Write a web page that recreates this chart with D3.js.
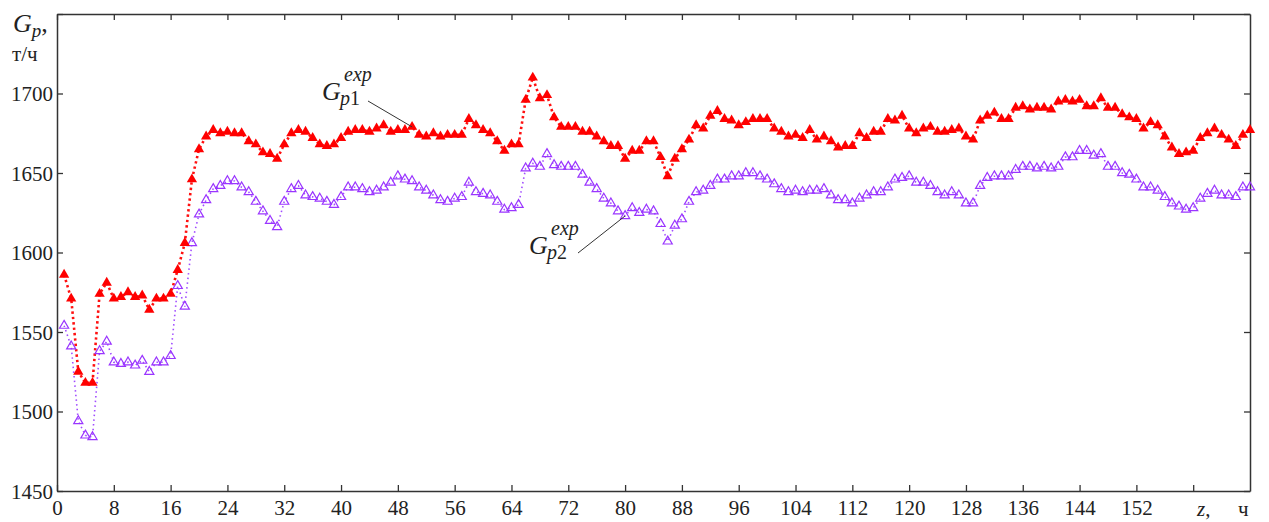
<!DOCTYPE html>
<html>
<head>
<meta charset="utf-8">
<script src="https://cdn.jsdelivr.net/npm/d3@7"></script>
<style>
  body { margin: 0; background: #fff; }
  svg text { font-family: "Times New Roman", Times, "Liberation Serif", "DejaVu Serif", "Noto Serif", serif; fill: #222; }
</style>
</head>
<body>
<svg id="chart" width="1269" height="522"></svg>
<script>
// hours of operation
const hours = d3.range(1, 169)

// Gp1 exp, t/h
const gp1 = [
  1586, 1571, 1525, 1518, 1518, 1574, 1581, 1571, 1572, 1575,
  1572, 1573, 1564, 1571, 1571, 1574, 1589, 1606, 1646, 1665,
  1673, 1677, 1675, 1676, 1675, 1675, 1670, 1668, 1663, 1662,
  1659, 1668, 1675, 1677, 1676, 1672, 1668, 1667, 1668, 1672,
  1676, 1677, 1677, 1676, 1678, 1680, 1676, 1677, 1677, 1679,
  1674, 1673, 1675, 1673, 1674, 1674, 1674, 1684, 1680, 1677,
  1675, 1670, 1664, 1668, 1668, 1696, 1710, 1697, 1699, 1685,
  1679, 1679, 1679, 1676, 1676, 1673, 1670, 1667, 1667, 1659,
  1664, 1664, 1670, 1670, 1660, 1648, 1659, 1665, 1671, 1680,
  1678, 1686, 1689, 1684, 1683, 1680, 1682, 1684, 1684, 1684,
  1678, 1676, 1673, 1674, 1672, 1677, 1671, 1673, 1670, 1666,
  1667, 1667, 1675, 1672, 1676, 1676, 1684, 1683, 1686, 1678,
  1675, 1678, 1679, 1676, 1676, 1677, 1678, 1673, 1671, 1683,
  1686, 1688, 1684, 1684, 1691, 1692, 1690, 1691, 1691, 1690,
  1695, 1696, 1695, 1696, 1692, 1692, 1697, 1691, 1691, 1687,
  1685, 1684, 1678, 1682, 1680, 1673, 1666, 1662, 1663, 1664,
  1672, 1675, 1678, 1674, 1671, 1667, 1674, 1677
]

// Gp2 exp, t/h
const gp2 = [
  1554, 1541, 1494, 1485, 1484, 1538, 1544, 1531, 1530, 1531,
  1529, 1532, 1525, 1531, 1531, 1535, 1579, 1566, 1606, 1624,
  1633, 1640, 1642, 1645, 1645, 1641, 1638, 1632, 1626, 1620,
  1616, 1632, 1640, 1642, 1636, 1635, 1634, 1632, 1630, 1635,
  1641, 1641, 1640, 1638, 1639, 1641, 1644, 1648, 1646, 1645,
  1641, 1639, 1636, 1633, 1632, 1634, 1635, 1644, 1638, 1637,
  1636, 1632, 1627, 1628, 1630, 1653, 1656, 1654, 1662, 1655,
  1654, 1654, 1654, 1649, 1644, 1640, 1634, 1631, 1626, 1623,
  1628, 1625, 1627, 1626, 1618, 1607, 1617, 1621, 1632, 1638,
  1639, 1642, 1646, 1646, 1648, 1648, 1650, 1650, 1648, 1646,
  1643, 1640, 1638, 1639, 1638, 1639, 1639, 1640, 1636, 1633,
  1633, 1631, 1634, 1636, 1638, 1638, 1641, 1646, 1647, 1648,
  1644, 1644, 1642, 1638, 1636, 1638, 1636, 1631, 1631, 1642,
  1647, 1648, 1648, 1648, 1652, 1654, 1654, 1653, 1654, 1653,
  1654, 1660, 1660, 1664, 1664, 1661, 1662, 1654, 1654, 1650,
  1649, 1646, 1641, 1641, 1639, 1635, 1631, 1629, 1627, 1628,
  1634, 1637, 1639, 1636, 1636, 1635, 1641, 1641
]

const xTicks = [0, 8, 16, 24, 32, 40, 48, 56, 64, 72, 80, 88, 96, 104, 112, 120, 128, 136, 144, 152, 160]
const xTickLabels = ['0', '8', '16', '24', '32', '40', '48', '56', '64', '72', '80', '88', '96', '104', '112', '120', '128', '136', '144', '152', '']
const yTicks = [1450, 1500, 1550, 1600, 1650, 1700, 1750]
const yTickLabels = ['1450', '1500', '1550', '1600', '1650', '1700', '']

const serif = '"Times New Roman", Times, "Liberation Serif", "DejaVu Serif", "Noto Serif", serif'
const margin = { left: 57, right: 19, top: 14, bottom: 31 }
const width = 1269, height = 522
const svg = d3.select('#chart')

const x = d3.scaleLinear().domain([0, 168]).range([margin.left, width - margin.right])
const y = d3.scaleLinear().domain([1450, 1750]).range([height - margin.bottom, margin.top])

const axisColor = '#333'
const tickLen = 6

// axes: ticks pointing inward on all four sides
const bottom = svg.append('g')
  .attr('transform', `translate(0,${y(1450)})`)
  .call(d3.axisBottom(x).tickValues(xTicks).tickSizeInner(-tickLen).tickSizeOuter(0)
    .tickFormat((d, i) => xTickLabels[i]))
bottom.selectAll('text').attr('y', 9).attr('dy', '0.71em')

svg.append('g')
  .attr('transform', `translate(0,${y(1750)})`)
  .call(d3.axisTop(x).tickValues(xTicks).tickSizeInner(-tickLen).tickSizeOuter(0).tickFormat(''))

const left = svg.append('g')
  .attr('transform', `translate(${x(0)},0)`)
  .call(d3.axisLeft(y).tickValues(yTicks).tickSizeInner(-tickLen).tickSizeOuter(0)
    .tickFormat((d, i) => yTickLabels[i]))
left.selectAll('text').attr('x', -4).attr('dy', '0.34em')

svg.append('g')
  .attr('transform', `translate(${x(168)},0)`)
  .call(d3.axisRight(y).tickValues(yTicks).tickSizeInner(-tickLen).tickSizeOuter(0).tickFormat(''))

svg.selectAll('g').attr('font-family', serif).attr('font-size', 21)
svg.selectAll('.domain').attr('stroke', axisColor).attr('stroke-width', 1.5)
svg.selectAll('.tick line').attr('stroke', axisColor).attr('stroke-width', 1.3)
svg.selectAll('.tick text').attr('fill', '#222')

// series
const line = d3.line()
  .x((d, i) => x(hours[i]))
  .y(d => y(d))

const tri = d3.symbol().type(d3.symbolTriangle)

svg.append('path')
  .datum(gp2)
  .attr('fill', 'none')
  .attr('stroke', '#a04cff')
  .attr('stroke-width', 1.6)
  .attr('stroke-dasharray', '1.5,3.2')
  .attr('d', line)

svg.append('path')
  .datum(gp1)
  .attr('fill', 'none')
  .attr('stroke', '#ff1010')
  .attr('stroke-width', 2.6)
  .attr('stroke-dasharray', '2.4,3')
  .attr('d', line)

svg.append('g').selectAll('path')
  .data(gp2)
  .join('path')
  .attr('transform', (d, i) => `translate(${x(hours[i])},${y(d)})`)
  .attr('d', tri.size(36))
  .attr('fill', 'none')
  .attr('stroke', '#9a35ff')
  .attr('stroke-width', 1.2)

svg.append('g').selectAll('path')
  .data(gp1)
  .join('path')
  .attr('transform', (d, i) => `translate(${x(hours[i])},${y(d)})`)
  .attr('d', tri.size(46))
  .attr('fill', '#ff0000')

// axis titles
const yl = svg.append('text').attr('x', 13).attr('y', 32).style('font-size', '26px')
yl.append('tspan').text('G').style('font-style', 'italic')
yl.append('tspan').text('p').attr('dy', 5).style('font-size', '19px').style('font-style', 'italic')
yl.append('tspan').text(',').attr('dy', -5)
svg.append('text').attr('x', 12).attr('y', 61).style('font-size', '21px').text('т/ч')

const xl = svg.append('text').attr('x', 1197).attr('y', 516).style('font-size', '21px')
xl.append('tspan').text('z').style('font-style', 'italic')
xl.append('tspan').text(',')
svg.append('text').attr('x', 1238).attr('y', 516).style('font-size', '21px').text('ч')

// series labels with leader lines
function label (gx, gy, sub, lineFrom, lineTo) {
  const g = svg.append('g')
  g.append('text').attr('x', gx).attr('y', gy)
    .style('font-size', '26px').style('font-style', 'italic').text('G')
  const s = g.append('text').attr('x', gx + 18).attr('y', gy + 5).style('font-size', '20px')
  s.append('tspan').text('p').style('font-style', 'italic')
  s.append('tspan').text(sub)
  g.append('text').attr('x', gx + 22).attr('y', gy - 19)
    .style('font-size', '20px').style('font-style', 'italic').text('exp')
  g.append('line')
    .attr('x1', lineFrom[0]).attr('y1', lineFrom[1])
    .attr('x2', lineTo[0]).attr('y2', lineTo[1])
    .attr('stroke', '#333').attr('stroke-width', 1)
}

label(322, 100, '1', [368, 101], [x(hours[49]), y(gp1[49])])
label(529, 254, '2', [578, 253], [x(hours[79]), y(gp2[79])])
</script>
</body>
</html>
